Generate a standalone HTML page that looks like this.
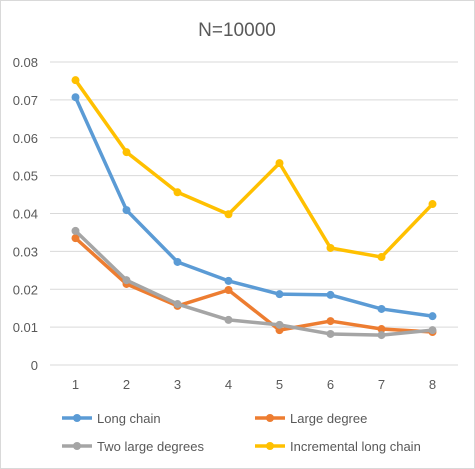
<!DOCTYPE html>
<html><head><meta charset="utf-8"><style>
html,body{margin:0;padding:0;background:#fff;}
svg{display:block;font-family:"Liberation Sans",sans-serif;}
</style></head><body>
<svg id="chart" width="475" height="469">
<rect x="0.5" y="0.5" width="474" height="468" fill="#fff" stroke="#d9d9d9"/>
<text x="237" y="36" text-anchor="middle" font-size="19" fill="#595959">N=10000</text>
<g id="grid"></g><g id="yticks"></g><g id="xticks"></g><g id="series"></g><g id="legend"></g>
</svg>
<script>
const categories=[1,2,3,4,5,6,7,8];
const yTicks=[0,0.01,0.02,0.03,0.04,0.05,0.06,0.07,0.08];
const yTickLabels=["0","0.01","0.02","0.03","0.04","0.05","0.06","0.07","0.08"];
const seriesNames=["Long chain","Large degree","Two large degrees","Incremental long chain"];
const longChain=[0.0707,0.0409,0.0272,0.0222,0.0187,0.0185,0.0148,0.0129];
const largeDegree=[0.0335,0.0214,0.0156,0.0198,0.0092,0.0116,0.0095,0.0087];
const twoLarge=[0.0354,0.0224,0.0161,0.0119,0.0106,0.0082,0.0079,0.0092];
const incremental=[0.0752,0.0562,0.0456,0.0398,0.0533,0.0309,0.0285,0.0425];
const colors=["#5b9bd5","#ed7d31","#a5a5a5","#ffc000"];
const NS="http://www.w3.org/2000/svg";
const x0=50,x1=458,yBase=365,yTop=62;
const xS=i=>x0+(x1-x0)*(i+0.5)/categories.length;
const yS=v=>yBase-(yBase-yTop)*v/0.08;
function mk(tag,attrs,parent){const e=document.createElementNS(NS,tag);for(const k in attrs)e.setAttribute(k,attrs[k]);parent.appendChild(e);return e;}
const grid=document.getElementById('grid'),yt=document.getElementById('yticks'),xt=document.getElementById('xticks');
yTicks.forEach((v,i)=>{
 const l=mk('line',{x1:x0,x2:x1,y1:yS(v),y2:yS(v),stroke:'#d9d9d9','stroke-width':1},grid);
 
 
 const t=mk('text',{x:38,y:yS(v)+5,'text-anchor':'end','font-size':13,fill:'#595959'},yt);
 t.textContent=yTickLabels[i];
 
 
});
categories.forEach((c,i)=>{
 const t=mk('text',{x:xS(i),y:389,'text-anchor':'middle','font-size':13,fill:'#595959'},xt);
 t.textContent=c;
 
 
});
const data=[longChain,largeDegree,twoLarge,incremental];
const sg=document.getElementById('series');
data.forEach((arr,s)=>{
 const g=mk('g',{},sg);
 
 
 const p=mk('polyline',{points:arr.map((v,i)=>xS(i)+','+yS(v)).join(' '),fill:'none',stroke:colors[s],'stroke-width':3.5,'stroke-linejoin':'round'},g);
 
 
 arr.forEach((v,i)=>{
  const c=mk('circle',{cx:xS(i),cy:yS(v),r:4,fill:colors[s]},g);
  
  
 });
});
const lg=document.getElementById('legend');
const lpos=[[62,418],[255,418],[62,446],[255,446]];
seriesNames.forEach((n,s)=>{
 const g=mk('g',{},lg);
 
 
 const [lx,ly]=lpos[s];
 mk('line',{x1:lx,x2:lx+30,y1:ly,y2:ly,stroke:colors[s],'stroke-width':3.5},g);
 mk('circle',{cx:lx+15,cy:ly,r:4,fill:colors[s]},g);
 const t=mk('text',{x:lx+35,y:ly+5,'font-size':13,fill:'#595959'},g);
 t.textContent=n;
});
</script>
</body></html>
